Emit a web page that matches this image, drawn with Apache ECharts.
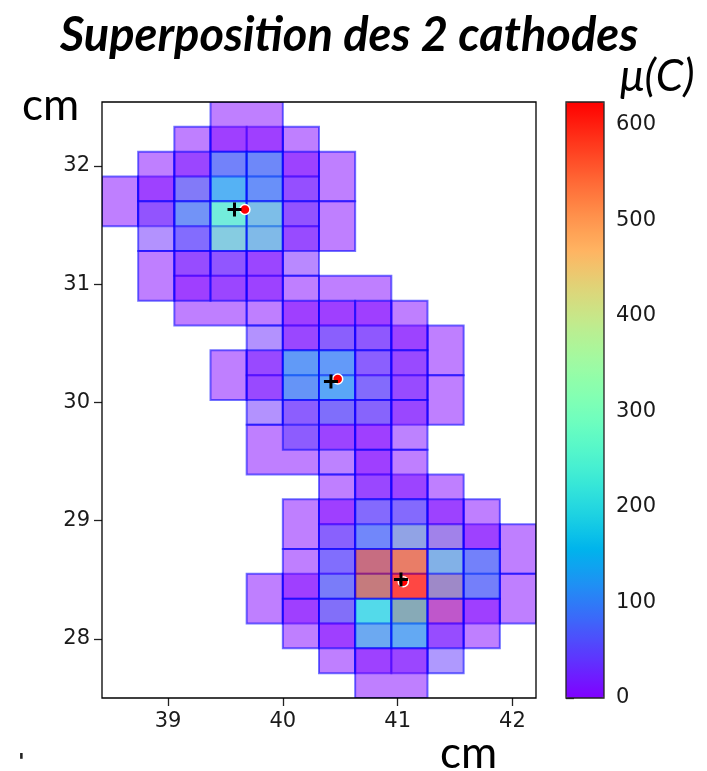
<!DOCTYPE html>
<html>
<head>
<meta charset="utf-8">
<script src="https://cdn.jsdelivr.net/npm/echarts@6/dist/echarts.min.js"></script>
<style>
  html, body { margin: 0; padding: 0; background: #ffffff; }
  #chart { width: 707px; height: 771px; }
</style>
</head>
<body>
<div id="chart"></div>
<script>
// Pads of the two cathode planes: centre (cm), half-width (cm), charge.
// All pads are 0.42 cm tall; most are 0.315 cm wide, a few are 0.63 cm wide.
const padHalfHeight = 0.21;

// Cathode 1 (drawn first)
const cath1X = [
  39.2125, 39.5275, 39.8425, 40.1575,
  38.5825, 38.8975, 39.2125, 39.5275, 39.8425, 40.1575,
  39.2125, 39.5275, 39.8425, 40.1575,
  39.3700, 39.8425, 40.1575, 40.6300,
  39.8425, 40.1575, 40.4725, 40.7875, 41.1025, 41.4175,
  39.8425, 40.1575, 40.4725, 40.7875, 41.1025, 41.4175,
  40.0000, 40.4725, 40.7875,
  40.4725, 40.7875, 41.1025, 41.4175,
  40.4725, 40.7875, 41.1025, 41.4175, 41.7325, 42.0475,
  39.8425, 40.1575, 40.4725, 40.7875, 41.1025, 41.4175, 41.7325, 42.0475,
  40.4725, 40.7875, 41.1025, 41.4175
];
const cath1Y = [
  32.12, 32.12, 32.12, 32.12,
  31.70, 31.70, 31.70, 31.70, 31.70, 31.70,
  31.28, 31.28, 31.28, 31.28,
  30.86, 30.86, 30.86, 30.86,
  30.44, 30.44, 30.44, 30.44, 30.44, 30.44,
  30.02, 30.02, 30.02, 30.02, 30.02, 30.02,
  29.60, 29.60, 29.60,
  29.18, 29.18, 29.18, 29.18,
  28.76, 28.76, 28.76, 28.76, 28.76, 28.76,
  28.34, 28.34, 28.34, 28.34, 28.34, 28.34, 28.34, 28.34,
  27.92, 27.92, 27.92, 27.92
];
const cath1DX = [
  0.1575, 0.1575, 0.1575, 0.1575,
  0.1575, 0.1575, 0.1575, 0.1575, 0.1575, 0.1575,
  0.1575, 0.1575, 0.1575, 0.1575,
  0.315, 0.1575, 0.1575, 0.315,
  0.1575, 0.1575, 0.1575, 0.1575, 0.1575, 0.1575,
  0.1575, 0.1575, 0.1575, 0.1575, 0.1575, 0.1575,
  0.315, 0.1575, 0.1575,
  0.1575, 0.1575, 0.1575, 0.1575,
  0.1575, 0.1575, 0.1575, 0.1575, 0.1575, 0.1575,
  0.1575, 0.1575, 0.1575, 0.1575, 0.1575, 0.1575, 0.1575, 0.1575,
  0.1575, 0.1575, 0.1575, 0.1575
];
const cath1Q = [
  0, 0, 0, 0,
  0, 5, 190, 170, 25, 40,
  40, 50, 10, 15,
  0, 0, 0, 0,
  30, 25, 105, 80, 10, 0,
  30, 5, 150, 120, 15, 0,
  0, 5, 0,
  0, 25, 15, 0,
  110, 120, 360, 330, 5, 0,
  0, 0, 170, 185, 600, 550, 0, 0,
  0, 5, 20, 40
];

// Cathode 2 (drawn on top)
const cath2X = [
  39.6850,
  38.8975, 39.2125, 39.5275, 39.8425, 40.1575, 40.4725,
  38.8975, 39.2125, 39.5275, 39.8425, 40.1575, 40.4725,
  38.8975, 39.2125, 39.5275, 39.8425,
  40.1575, 40.4725, 40.7875, 41.1025,
  39.5275, 39.8425, 40.1575, 40.4725, 40.7875, 41.1025,
  40.1575, 40.4725, 40.7875, 41.1025,
  40.7875, 41.1025,
  40.1575, 40.4725, 40.7875, 41.1025, 41.4175, 41.7325,
  40.1575, 40.4725, 40.7875, 41.1025, 41.4175, 41.7325,
  40.1575, 40.4725, 40.7875, 41.1025, 41.4175, 41.7325,
  40.9450
];
const cath2Y = [
  32.33,
  31.91, 31.91, 31.91, 31.91, 31.91, 31.91,
  31.49, 31.49, 31.49, 31.49, 31.49, 31.49,
  31.07, 31.07, 31.07, 31.07,
  30.65, 30.65, 30.65, 30.65,
  30.23, 30.23, 30.23, 30.23, 30.23, 30.23,
  29.81, 29.81, 29.81, 29.81,
  29.39, 29.39,
  28.97, 28.97, 28.97, 28.97, 28.97, 28.97,
  28.55, 28.55, 28.55, 28.55, 28.55, 28.55,
  28.13, 28.13, 28.13, 28.13, 28.13, 28.13,
  27.71
];
const cath2DX = [
  0.315,
  0.1575, 0.1575, 0.1575, 0.1575, 0.1575, 0.1575,
  0.1575, 0.1575, 0.1575, 0.1575, 0.1575, 0.1575,
  0.1575, 0.1575, 0.1575, 0.1575,
  0.1575, 0.1575, 0.1575, 0.1575,
  0.1575, 0.1575, 0.1575, 0.1575, 0.1575, 0.1575,
  0.1575, 0.1575, 0.1575, 0.1575,
  0.1575, 0.1575,
  0.1575, 0.1575, 0.1575, 0.1575, 0.1575, 0.1575,
  0.1575, 0.1575, 0.1575, 0.1575, 0.1575, 0.1575,
  0.1575, 0.1575, 0.1575, 0.1575, 0.1575, 0.1575,
  0.315
];
const cath2Q = [
  0,
  0, 10, 110, 120, 5, 0,
  30, 50, 275, 240, 10, 0,
  0, 0, 10, 5,
  0, 0, 0, 0,
  0, 0, 140, 95, 10, 10,
  45, 5, 0, 5,
  0, 0,
  0, 0, 55, 60, 5, 0,
  0, 20, 610, 624, 80, 105,
  0, 0, 190, 175, 0, 0,
  0
];

// Reconstructed hit positions (black crosses) and reference positions (red dots)
const recoX = [39.579, 40.419, 41.029];
const recoY = [31.631, 30.176, 28.502];
const trueX = [39.670, 40.478, 41.049];
const trueY = [31.631, 30.198, 28.483];

// Axis ranges and tick labels
const xRange = [38.425, 42.205];
const yRange = [27.50, 32.54];
const xTicks = [39, 40, 41, 42];
const yTicks = [28, 29, 30, 31, 32];
const chargeRange = [0, 624];
const chargeTicks = [0, 100, 200, 300, 400, 500, 600];

// matplotlib "rainbow" colormap
function rainbow(t) {
  const r = Math.min(1, Math.abs(2 * t - 0.5));
  const g = Math.sin(Math.PI * t);
  const b = Math.max(0, Math.cos(Math.PI * t / 2));
  return 'rgb(' + Math.round(r * 255) + ',' + Math.round(g * 255) + ',' + Math.round(b * 255) + ')';
}
const cmapStops = [];
for (let i = 0; i <= 32; i++) cmapStops.push(rainbow(i / 32));

function padData(xs, ys, dxs, qs) {
  return xs.map((x, i) => [x, ys[i], dxs[i], padHalfHeight, qs[i]]);
}

function renderPad(params, api) {
  const x = api.value(0), y = api.value(1), dx = api.value(2), dy = api.value(3);
  const p0 = api.coord([x - dx, y + dy]);
  const p1 = api.coord([x + dx, y - dy]);
  const color = api.visual('color');
  return {
    type: 'rect',
    shape: { x: p0[0], y: p0[1], width: p1[0] - p0[0], height: p1[1] - p0[1] },
    style: {
      fill: echarts.color.modifyAlpha(color, 0.5),
      stroke: 'rgba(0,0,255,0.55)',
      lineWidth: 2
    }
  };
}

const tickFont = { fontFamily: 'DejaVu Sans', fontSize: 21, color: '#1a1a1a' };

const chart = echarts.init(document.getElementById('chart'), null, { renderer: 'canvas' });
chart.setOption({
  animation: false,
  backgroundColor: '#ffffff',
  title: {
    text: 'Superposition des 2 cathodes',
    left: 55,
    top: 7,
    textStyle: { fontFamily: 'Lato', fontWeight: 'bold', fontStyle: 'italic', fontSize: 47, color: '#000' }
  },
  graphic: [
    { type: 'text', left: 22, top: 84, style: { text: 'cm', font: '44px Lato', fill: '#000' } },
    { type: 'text', left: 440, top: 732, style: { text: 'cm', font: '44px Lato', fill: '#000' } },
    { type: 'text', left: 620, top: 55, style: { text: 'μ(C)', font: 'italic 44px Lato', fill: '#000' } },
    { type: 'text', left: 18, top: 752, style: { text: "'", font: 'bold 22px DejaVu Sans', fill: '#222' } }
  ],
  grid: [
    { left: 102, top: 102, width: 434, height: 596, show: true, borderColor: '#000', borderWidth: 1.3, backgroundColor: 'transparent', z: 3 },
    { left: 566, top: 102, width: 38, height: 596, show: true, borderColor: '#222', borderWidth: 1.3, backgroundColor: 'transparent', z: 10 }
  ],
  xAxis: [
    {
      gridIndex: 0, type: 'value', min: xRange[0], max: xRange[1],
      axisLine: { show: false },
      axisTick: { show: true, length: 8, customValues: xTicks, lineStyle: { color: '#222', width: 1.3 } },
      axisLabel: Object.assign({ customValues: xTicks, margin: 13 }, tickFont),
      splitLine: { show: false }
    },
    { gridIndex: 1, type: 'value', show: false, min: 0, max: 1 }
  ],
  yAxis: [
    {
      gridIndex: 0, type: 'value', min: yRange[0], max: yRange[1],
      axisLine: { show: false },
      axisTick: { show: true, length: 8, customValues: yTicks, lineStyle: { color: '#222', width: 1.3 } },
      axisLabel: Object.assign({ customValues: yTicks, margin: 12 }, tickFont),
      splitLine: { show: false }
    },
    {
      gridIndex: 1, type: 'value', position: 'right', min: chargeRange[0], max: chargeRange[1],
      axisLine: { show: false },
      axisTick: { show: true, length: 8, customValues: chargeTicks, lineStyle: { color: '#222', width: 1.3 } },
      axisLabel: Object.assign({ customValues: chargeTicks, margin: 12 }, tickFont),
      splitLine: { show: false }
    }
  ],
  visualMap: {
    type: 'continuous',
    min: chargeRange[0], max: chargeRange[1],
    dimension: 4,
    seriesIndex: [0, 1],
    calculable: false,
    hoverLink: false,
    orient: 'vertical',
    left: 566, top: 102,
    itemWidth: 38, itemHeight: 596,
    padding: 0,
    text: null,
    inRange: { color: cmapStops }
  },
  series: [
    {
      name: 'cathode 1', type: 'custom', xAxisIndex: 0, yAxisIndex: 0, clip: true,
      renderItem: renderPad, data: padData(cath1X, cath1Y, cath1DX, cath1Q), z: 2
    },
    {
      name: 'cathode 2', type: 'custom', xAxisIndex: 0, yAxisIndex: 0, clip: true,
      renderItem: renderPad, data: padData(cath2X, cath2Y, cath2DX, cath2Q), z: 2
    },
    {
      name: 'reference', type: 'scatter', xAxisIndex: 0, yAxisIndex: 0,
      data: trueX.map((x, i) => [x, trueY[i]]),
      symbol: 'circle', symbolSize: 10,
      itemStyle: { color: '#ff0000', borderColor: '#ffffff', borderWidth: 1.5, opacity: 1 },
      z: 4
    },
    {
      name: 'reconstructed', type: 'scatter', xAxisIndex: 0, yAxisIndex: 0,
      data: recoX.map((x, i) => [x, recoY[i]]),
      symbol: 'path://M-1.5,-7H1.5V-1.5H7V1.5H1.5V7H-1.5V1.5H-7V-1.5H-1.5Z', symbolSize: 14,
      itemStyle: { color: '#000000', opacity: 1 },
      z: 5
    }
  ]
});
</script>
</body>
</html>
